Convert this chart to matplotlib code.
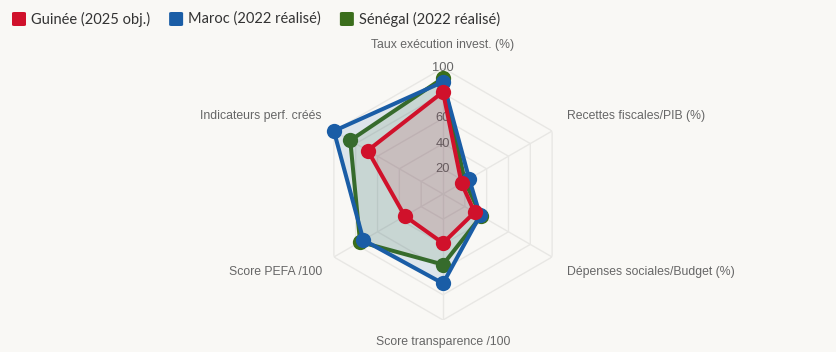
import numpy as np
import matplotlib
matplotlib.use("Agg")
import matplotlib.pyplot as plt
from matplotlib.patches import FancyBboxPatch

# ---- data ----
axes_labels = ["Taux exécution invest. (%)", "Recettes fiscales/PIB (%)",
               "Dépenses sociales/Budget (%)", "Score transparence /100",
               "Score PEFA /100", "Indicateurs perf. créés"]
series_names = ["Guinée (2025 obj.)", "Maroc (2022 réalisé)", "Sénégal (2022 réalisé)"]
guinee = [81, 17, 29, 39, 35, 69]
maroc = [89, 24, 34, 71, 73, 100]
senegal = [92, 20, 35, 56, 76, 85]
tick_values = [20, 40, 60, 80, 100]

colors = ["#D0112B", "#1A5DA6", "#3B6E1C"]
BG = "#F9F8F5"

W, H, DPI = 837, 352, 100
fig = plt.figure(figsize=(W / DPI, H / DPI), dpi=DPI, facecolor=BG)

cx, cy, R = 443, 194, 126
ax = fig.add_axes([(cx - R) / W, (H - cy - R) / H, 2 * R / W, 2 * R / H],
                  projection="polar")
ax.set_facecolor("none")
ax.set_theta_offset(np.pi / 2)
ax.set_theta_direction(-1)
ax.set_ylim(0, 100)
ax.grid(False)
ax.spines["polar"].set_visible(False)
ax.set_xticks([])
ax.set_yticks([])

n = len(axes_labels)
theta = np.arange(n) * 2 * np.pi / n
theta_c = np.append(theta, theta[0])

grid_col = "#E8E7E4"
for v in tick_values:
    ax.plot(theta_c, [v] * (n + 1), color=grid_col, lw=1, zorder=1)
for t in theta:
    ax.plot([t, t], [0, 100], color=grid_col, lw=1, zorder=1)

# tick labels
for v in tick_values:
    ax.text(0, v, str(v), ha="center", va="center", fontsize=9.3,
            color="#666666", family="Liberation Sans", zorder=2)

# point labels
pl_font = dict(fontsize=8.8, color="#666666", family="Liberation Sans")
label_pos = [(cx, 45, "center"), (cx + 124, 116, "left"), (cx + 124, 272, "left"),
             (cx, 342, "center"), (cx - 121, 272, "right"), (cx - 121, 116, "right")]
for i, lab in enumerate(axes_labels):
    x, y, ha = label_pos[i]
    fig.text(x / W, 1 - y / H, lab, ha=ha, va="center", **pl_font)

data = [guinee, maroc, senegal]
for k in [2, 1, 0]:
    vals = np.append(data[k], data[k][0])
    z = 5 + (2 - k) * 3
    ax.fill(theta_c, vals, color=colors[k], alpha=0.12, lw=0, zorder=z)
    ax.plot(theta_c, vals, color=colors[k], lw=2.9, zorder=z + 1, clip_on=False,
            solid_joinstyle="miter")
    ax.plot(theta, data[k], "o", color=colors[k], ms=11, zorder=z + 2,
            clip_on=False, markeredgewidth=0)

# legend
renderer = fig.canvas.get_renderer()
x = 12
ly = 19
for k, name in enumerate(series_names):
    sq = FancyBboxPatch((x / W, (H - ly - 7) / H), 14 / W, 14 / H,
                        boxstyle="round,pad=0,rounding_size=0.003",
                        transform=fig.transFigure, facecolor=colors[k],
                        edgecolor="none")
    fig.patches.append(sq)
    t = fig.text((x + 19) / W, 1 - ly / H, name, ha="left", va="center",
                 fontsize=10.5, color="#333333", family="Lato")
    bb = t.get_window_extent(renderer)
    x = bb.x1 + 19

fig.savefig("out.png", dpi=DPI, facecolor=BG)
